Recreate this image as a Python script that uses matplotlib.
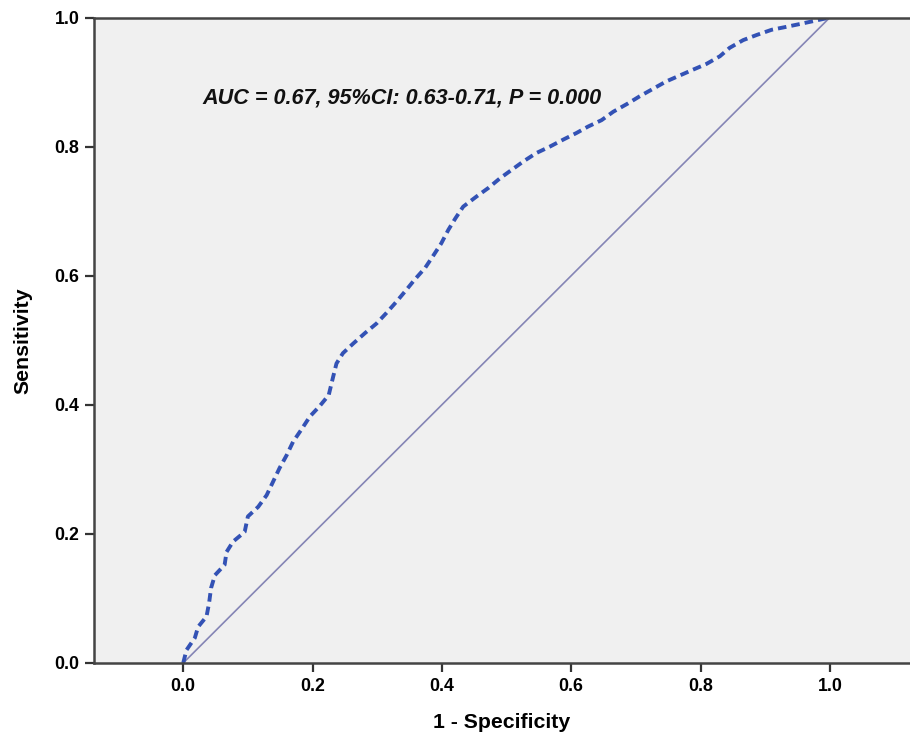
import matplotlib.pyplot as plt

# ROC curve points (1 - specificity, sensitivity)
fpr = [0.0, 0.005, 0.018, 0.023, 0.036, 0.040, 0.043, 0.049, 0.064, 0.067,
       0.077, 0.095, 0.100, 0.116, 0.129, 0.139, 0.149, 0.160, 0.170, 0.183,
       0.196, 0.211, 0.225, 0.232, 0.237, 0.247, 0.263, 0.281, 0.299, 0.314,
       0.330, 0.345, 0.358, 0.374, 0.386, 0.399, 0.410, 0.421, 0.433, 0.454,
       0.472, 0.490, 0.508, 0.526, 0.546, 0.567, 0.588, 0.608, 0.626, 0.647,
       0.665, 0.688, 0.706, 0.747, 0.788, 0.809, 0.830, 0.845, 0.866, 0.887,
       0.910, 0.930, 0.954, 0.977, 1.0]
tpr = [0.0, 0.020, 0.039, 0.056, 0.072, 0.093, 0.116, 0.136, 0.152, 0.172,
       0.188, 0.203, 0.227, 0.242, 0.260, 0.281, 0.302, 0.322, 0.343, 0.362,
       0.382, 0.398, 0.415, 0.444, 0.464, 0.480, 0.495, 0.511, 0.526, 0.542,
       0.560, 0.578, 0.594, 0.612, 0.630, 0.650, 0.671, 0.689, 0.707, 0.723,
       0.736, 0.751, 0.764, 0.777, 0.790, 0.800, 0.811, 0.821, 0.831, 0.841,
       0.854, 0.867, 0.878, 0.901, 0.919, 0.928, 0.940, 0.953, 0.965, 0.973,
       0.981, 0.985, 0.990, 0.995, 1.0]
ref_line = [0.0, 1.0]
annotation = 'AUC = 0.67, 95%CI: 0.63-0.71, P = 0.000'


def main():
    plt.rcParams['font.family'] = ['Liberation Sans', 'DejaVu Sans']
    fig = plt.figure(figsize=(9.1, 7.36), dpi=100)
    ax = fig.add_axes([0.1033, 0.0992, 0.8967, 0.877])
    ax.set_facecolor('#f0f0f0')

    ax.plot(ref_line, ref_line, color='#8585b5', lw=1.2)
    ax.plot(fpr, tpr, color='#3352b5', lw=2.8, dashes=(2.2, 1.3))

    ax.text(0.030, 0.876, annotation, fontsize=15.6, fontweight='bold',
            fontstyle='italic', color='#111111', va='center')

    ax.set_xlim(-0.138, 1.124)
    ax.set_ylim(0, 1)
    ax.set_xticks([0.0, 0.2, 0.4, 0.6, 0.8, 1.0])
    ax.set_yticks([0.0, 0.2, 0.4, 0.6, 0.8, 1.0])
    ax.set_xticklabels(['0.0', '0.2', '0.4', '0.6', '0.8', '1.0'])
    ax.set_yticklabels(['0.0', '0.2', '0.4', '0.6', '0.8', '1.0'])
    for lab in ax.get_xticklabels() + ax.get_yticklabels():
        lab.set_fontweight('bold')
    ax.tick_params(direction='out', length=6.5, width=1.6, color='#333333',
                   labelsize=12.8, pad=4)

    for side in ['left', 'bottom', 'top']:
        ax.spines[side].set_color('#444444')
        ax.spines[side].set_linewidth(1.8)
    ax.spines['right'].set_visible(False)

    ax.set_xlabel('1 - Specificity', fontsize=15.3, fontweight='bold',
                  labelpad=13)
    ax.set_ylabel('Sensitivity', fontsize=15.3, fontweight='bold',
                  labelpad=16)

    fig.savefig('out.png', dpi=100)


if __name__ == '__main__':
    main()
